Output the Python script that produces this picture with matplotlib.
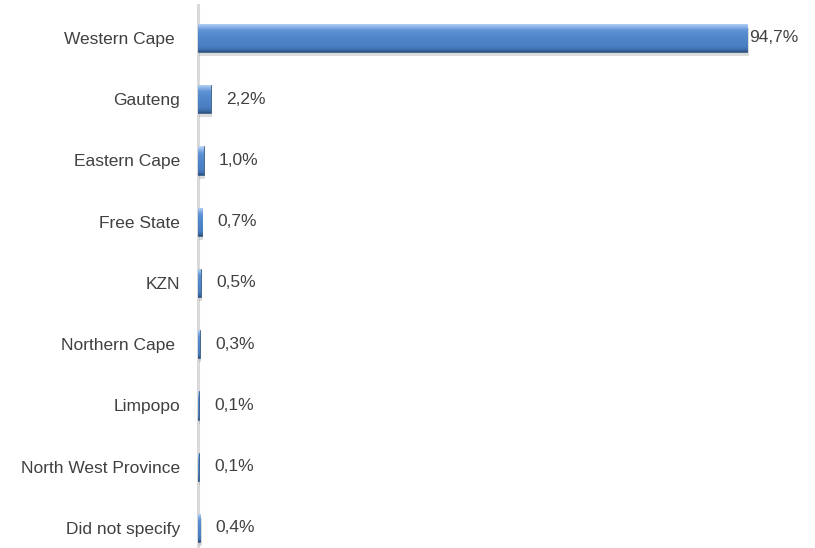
import numpy as np
import matplotlib.pyplot as plt
import matplotlib.patheffects as pe
from matplotlib.colors import LinearSegmentedColormap

plt.rcParams["font.family"] = ["Liberation Sans", "DejaVu Sans"]

provinces = [
    "Western Cape ",
    "Gauteng",
    "Eastern Cape",
    "Free State",
    "KZN",
    "Northern Cape ",
    "Limpopo",
    "North West Province",
    "Did not specify",
]
shares = [94.7, 2.2, 1.0, 0.7, 0.5, 0.3, 0.1, 0.1, 0.4]
share_labels = ["94,7%", "2,2%", "1,0%", "0,7%", "0,5%", "0,3%", "0,1%", "0,1%", "0,4%"]

TEXT_COLOR = "#404040"
BAR_HEIGHT = 0.46

# vertical shading: light top rim, flat mid blue body, dark bottom rim
bevel = LinearSegmentedColormap.from_list(
    "bevel",
    [
        (0.00, "#c0d8f6"),
        (0.12, "#8db4e8"),
        (0.25, "#5e92d4"),
        (0.50, "#5087cb"),
        (0.80, "#4a7fc2"),
        (0.92, "#3f6fae"),
        (1.00, "#2d5081"),
    ],
)


def main() -> None:
    fig = plt.figure(figsize=(8.15, 5.48), dpi=100)
    ax = fig.add_axes([0.243, 0.0, 0.7117, 0.9909])

    y = np.arange(len(provinces))
    bars = ax.barh(
        y,
        shares,
        height=BAR_HEIGHT,
        color="#4f85c9",
        edgecolor="#2c4d75",
        linewidth=0.5,
        zorder=2,
    )

    grad = np.linspace(0, 1, 64).reshape(-1, 1)
    for bar in bars:
        bar.set_path_effects(
            [pe.SimplePatchShadow(offset=(1, -3), shadow_rgbFace="#8c8c8c", alpha=0.3), pe.Normal()]
        )
        x0, y0 = bar.get_x(), bar.get_y()
        w, h = bar.get_width(), bar.get_height()
        img = ax.imshow(
            grad,
            cmap=bevel,
            aspect="auto",
            extent=(x0, x0 + w, y0 + h, y0),
            origin="upper",
            zorder=2.5,
        )
        img.set_clip_path(bar)

    for yi, val, txt in zip(y, shares, share_labels):
        offset = 1 if val > 90 else 11
        ax.annotate(
            txt,
            xy=(val, yi),
            xytext=(offset, 0),
            textcoords="offset points",
            va="center",
            ha="left",
            fontsize=12.5,
            color=TEXT_COLOR,
        )

    ax.set_xlim(0, 100)
    ax.set_ylim(8.327, -0.539)
    ax.set_yticks(y)
    ax.set_yticklabels(provinces, fontsize=12.5, color=TEXT_COLOR)
    ax.tick_params(axis="y", length=0, pad=13)
    ax.set_xticks([])

    for side in ["top", "right", "bottom"]:
        ax.spines[side].set_visible(False)
    ax.spines["left"].set_color("#d9d9d9")
    ax.spines["left"].set_linewidth(2.2)
    ax.spines["left"].set_zorder(1)

    fig.savefig("out.png", dpi=100)
    plt.close(fig)


if __name__ == "__main__":
    main()
